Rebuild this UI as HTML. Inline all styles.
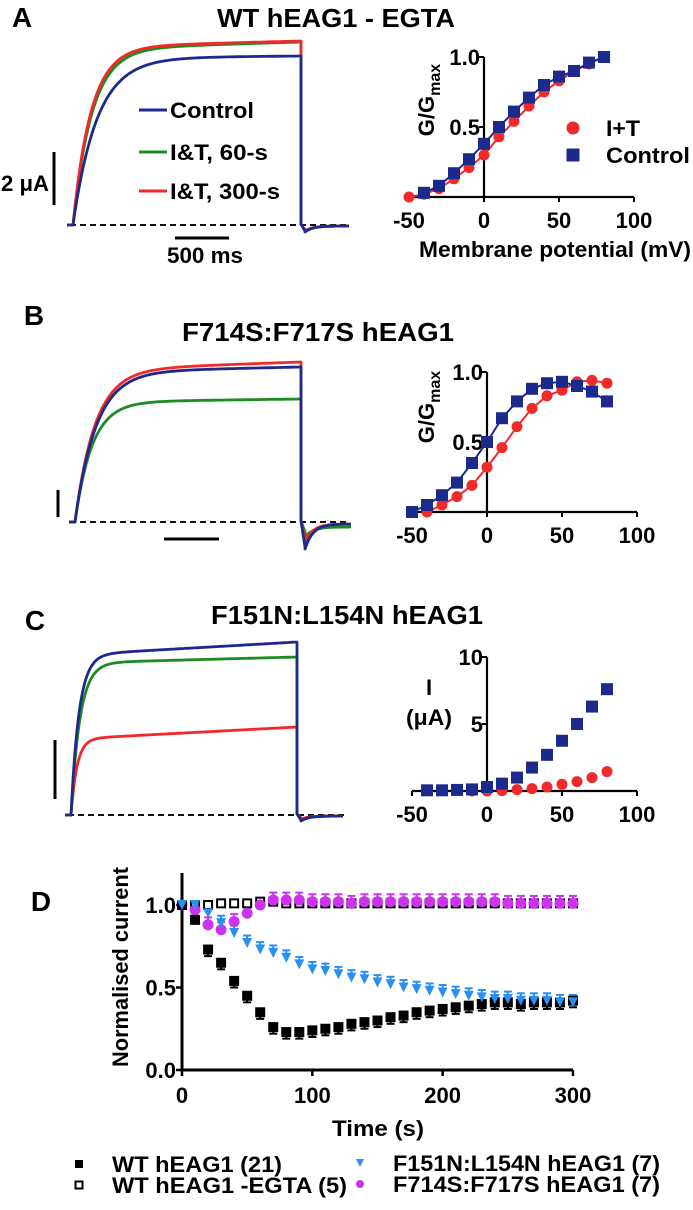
<!DOCTYPE html>
<html><head><meta charset="utf-8">
<style>
html,body{margin:0;padding:0;background:#fff;}
svg{display:block;font-family:"Liberation Sans",Arial,sans-serif;font-weight:bold;}
</style></head>
<body>
<svg id="fig" width="693" height="1210" viewBox="0 0 693 1210" xmlns="http://www.w3.org/2000/svg">
<g id="gA"></g>
<g id="gB"></g>
<g id="gC"></g>
<g id="gD"></g>
</svg>
<script>
// ---------- DATA ----------
const vA_ctrl = [-40,-30,-20,-10,0,10,20,30,40,50,60,70,80];
const gA_ctrl = [0.03,0.08,0.17,0.27,0.38,0.5,0.61,0.71,0.8,0.86,0.9,0.96,1.0];
const vA_it = [-50,-40,-30,-20,-10,0,10,20,30,40,50,60,70,80];
const gA_it = [0.0,0.02,0.06,0.13,0.21,0.3,0.43,0.54,0.65,0.75,0.83,0.9,0.95,1.0];

const vB_ctrl = [-50,-40,-30,-20,-10,0,10,20,30,40,50,60,70,80];
const gB_ctrl = [0.0,0.05,0.12,0.21,0.35,0.5,0.67,0.79,0.88,0.92,0.93,0.9,0.86,0.79];
const vB_it = [-40,-30,-20,-10,0,10,20,30,40,50,60,70,80];
const gB_it = [0.0,0.05,0.11,0.19,0.32,0.46,0.61,0.74,0.83,0.87,0.93,0.94,0.92];

const vC_ctrl = [-40,-30,-20,-10,0,10,20,30,40,50,60,70,80];
const iC_ctrl = [0.05,0.05,0.08,0.12,0.3,0.55,1.0,1.75,2.7,3.75,5.0,6.3,7.6];
const vC_it = [-10,0,10,20,30,40,50,60,70,80];
const iC_it = [0.0,0.0,0.03,0.1,0.18,0.3,0.5,0.7,1.0,1.45];

const tD = [0,10,20,30,40,50,60,70,80,90,100,110,120,130,140,150,160,170,180,190,200,210,220,230,240,250,260,270,280,290,300];
const dWT = [1.0,0.91,0.73,0.65,0.54,0.45,0.35,0.26,0.23,0.23,0.24,0.25,0.26,0.28,0.29,0.30,0.32,0.33,0.35,0.36,0.37,0.38,0.39,0.40,0.41,0.41,0.40,0.41,0.41,0.41,0.42];
const dEGTA = [1.0,1.0,1.0,1.01,1.01,1.01,1.02,1.02,1.01,1.01,1.01,1.01,1.01,1.01,1.01,1.01,1.01,1.01,1.01,1.01,1.01,1.01,1.01,1.01,1.01,1.01,1.01,1.01,1.01,1.01,1.01];
const dF151 = [1.0,1.0,0.95,0.89,0.83,0.77,0.73,0.71,0.68,0.64,0.61,0.60,0.58,0.56,0.55,0.53,0.52,0.50,0.49,0.48,0.47,0.46,0.45,0.44,0.43,0.43,0.42,0.42,0.42,0.41,0.41];
const dF714 = [1.0,0.97,0.88,0.85,0.90,0.95,1.0,1.03,1.03,1.03,1.02,1.02,1.02,1.01,1.02,1.02,1.02,1.02,1.02,1.02,1.02,1.02,1.02,1.02,1.02,1.01,1.01,1.01,1.01,1.01,1.01];
const tickX_IV = [-50,0,50,100];
const tickY_G = ["0.5","1.0"];
const tickX_D = [0,100,200,300];
const tickY_D = [0,0.5,1.0];

const NAVY="#1c2a8c", RED="#f02a2a", GREEN="#1c8c22", BLUE="#2b8ff0", MAG="#cc33ee";
const FS=22;
const NS="http://www.w3.org/2000/svg";
function mk(parent,tag,attrs,text){const e=document.createElementNS(NS,tag);for(const k in attrs)e.setAttribute(k,attrs[k]);if(text!==undefined)e.textContent=text;parent.appendChild(e);return e;}
function txt(p,x,y,s,size,anchor,name,len){const a={x:x,y:y,'font-size':size,'text-anchor':anchor||'middle'};
if(len){a.textLength=len;a.lengthAdjust='spacingAndGlyphs';}
const e=mk(p,'text',a,s);


return e;}
function line(p,x1,y1,x2,y2,stroke,w,name,dash){const e=mk(p,'line',{x1:x1,y1:y1,x2:x2,y2:y2,stroke:stroke,'stroke-width':w});if(dash)e.setAttribute('stroke-dasharray',dash);


return e;}

function trace(p,x0,x1,xend,base,amp,tau,slow,name,color,tail){
  let d="M"+(x0-6)+","+base+" L"+x0+","+base;
  for(let x=x0;x<=x1;x+=1){const t=x-x0;const y=base-amp*(1-Math.exp(-t/tau))-slow*(t/(x1-x0));d+=" L"+x+","+y.toFixed(1);}
  d+=" L"+x1+","+(base+tail[0])+" L"+(x1+4)+","+(base+tail[1]);
  for(let x=x1+4;x<=xend;x+=2){d+=" L"+x+","+(base+tail[1]*Math.exp(-(x-x1-4)/8)+tail[2]).toFixed(1);}
  const e=mk(p,'path',{d:d,fill:'none',stroke:color,'stroke-width':2.8,'stroke-linejoin':'round'});
  
  
}
function marker(p,shape,x,y,color,name,size){
  const s=size||10;let e;
  if(shape==='sq'){e=mk(p,'rect',{x:x-s/2,y:y-s/2,width:s,height:s,fill:color});}
  else if(shape==='osq'){e=mk(p,'rect',{x:x-s/2+1,y:y-s/2+1,width:s-2,height:s-2,fill:'#fff',stroke:color,'stroke-width':2});}
  else if(shape==='ci'){e=mk(p,'circle',{cx:x,cy:y,r:s/2,fill:color});}
  else {e=mk(p,'path',{d:`M${x-s/2},${y-s/2} L${x+s/2},${y-s/2} L${x},${y+s/2} Z`,fill:color});}
  
  
  return e;
}

// ---------- Panel A ----------
const A=document.getElementById('gA');
txt(A,22,27,"A",28,'middle','panel-a-label');
txt(A,336,27,"WT hEAG1 - EGTA",26,'middle','panel-a-title',238);
line(A,70,225,350,225,"#111",2,'baseline-a','6,4');
trace(A,73,301,350,225,176,19,7,'trace-a-60s',GREEN,[-1,5,1]);
trace(A,73,301,350,225,178,18,6,'trace-a-300s',RED,[-1,5,1]);
trace(A,73,301,350,225,167,24,2,'trace-a-control',NAVY,[-1,6,1]);
line(A,54,152,54,205,"#000",3,'scale-bar-current-a');
txt(A,25,191,"2 μA",FS,'middle','scale-label-current-a',48);
line(A,175,238,229,238,"#000",3,'scale-bar-time-a');
txt(A,205,263,"500 ms",FS,'middle','scale-label-time-a',76);
[["Control",110,NAVY,84],["I&T, 60-s",152,GREEN,98],["I&T, 300-s",191,RED,110]].forEach((r,i)=>{
  line(A,139,r[1],167,r[1],r[2],3,'legend-line-a-'+i);
  txt(A,170,r[1]+8,r[0],FS,'start','legend-text-a-'+i,r[3]);
});

function ivPlot(g,pre,x0,yZero,yScale,yTop,xs1,ys1,xs2,ys2,yTicks,yTickLabels,fitLine){
  const X=v=>x0+v*1.5, Y=v=>yZero-v*yScale;
  line(g,x0,yTop,x0,yZero,"#000",2.2,pre+'-y-axis');
  line(g,X(-50),yZero,X(100),yZero,"#000",2.2,pre+'-x-axis');
  tickX_IV.forEach(v=>{line(g,X(v),yZero,X(v),yZero+5,"#000",2,pre+'-x-tick');txt(g,X(v),yZero+31,String(v),FS,'middle',pre+'-x-tick-label');});
  yTicks.forEach((v,i)=>{line(g,x0-5,Y(v),x0,Y(v),"#000",2,pre+'-y-tick');txt(g,x0-4,Y(v)+8,yTickLabels[i],FS,'end',pre+'-y-tick-label');});
  const pts=(xs,ys)=>xs.map((v,i)=>X(v)+","+Y(ys[i])).join(" ");
  if(fitLine){
    const l1=mk(g,'polyline',{points:pts(xs2,ys2),fill:'none',stroke:RED,'stroke-width':2});
    
    
    const l2=mk(g,'polyline',{points:pts(xs1,ys1),fill:'none',stroke:NAVY,'stroke-width':2});
    
    
  }
  xs2.forEach((v,i)=>marker(g,'ci',X(v),Y(ys2[i]),RED,pre+'-point-it',11));
  xs1.forEach((v,i)=>marker(g,'sq',X(v),Y(ys1[i]),NAVY,pre+'-point-control',12));
}
ivPlot(A,'iv-a',484,197,140,57,vA_ctrl,gA_ctrl,vA_it,gA_it,[0.5,1.0],tickY_G,true);
txt(A,555,257,"Membrane potential (mV)",FS,'middle','x-axis-title-a',272);
function gLabel(g,x,y,name){const t=mk(g,'text',{x:0,y:0,'font-size':FS,'text-anchor':'middle',transform:`translate(${x},${y}) rotate(-90)`});


t.innerHTML='G/G<tspan font-size="16" dy="6">max</tspan>';}
gLabel(A,434,100,'y-axis-title-a');
marker(A,'ci',573,128,RED,'legend-marker-it',13);
txt(A,606,136,"I+T",FS,'start','legend-text-it',34);
marker(A,'sq',573,155,NAVY,'legend-marker-control',13);
txt(A,606,163,"Control",FS,'start','legend-text-control',84);

// ---------- Panel B ----------
const B=document.getElementById('gB');
txt(B,34,325,"B",28,'middle','panel-b-label');
txt(B,318,341,"F714S:F717S hEAG1",26,'middle','panel-b-title',272);
line(B,70,522,350,522,"#111",2,'baseline-b','6,4');
trace(B,75,301,351,522,120,17,3,'trace-b-60s',GREEN,[-1,10,5]);
trace(B,75,301,351,522,152,20,8,'trace-b-300s',RED,[-1,18,2]);
trace(B,75,301,351,522,150,21,5,'trace-b-control',NAVY,[-1,25,2]);
line(B,58,490,58,517,"#000",3,'scale-bar-current-b');
line(B,164,539,219,539,"#000",3,'scale-bar-time-b');
ivPlot(B,'iv-b',487,512,140,372,vB_ctrl,gB_ctrl,vB_it,gB_it,[0.5,1.0],tickY_G,true);
gLabel(B,434,407,'y-axis-title-b');

// ---------- Panel C ----------
const C=document.getElementById('gC');
txt(C,35,630,"C",28,'middle','panel-c-label');
txt(C,347,624,"F151N:L154N hEAG1",26,'middle','panel-c-title',272);
line(C,68,815,345,815,"#111",2,'baseline-c','6,4');
trace(C,71,297,344,815,152,9,6,'trace-c-60s',GREEN,[-1,4,1]);
trace(C,71,297,344,815,76,6,12,'trace-c-300s',RED,[-1,3,1]);
trace(C,71,297,344,815,160,8,13,'trace-c-control',NAVY,[-1,5,1]);
line(C,55,740,55,799,"#000",3,'scale-bar-current-c');
ivPlot(C,'iv-c',487,791,13.4,657,vC_ctrl,iC_ctrl,vC_it,iC_it,[5,10],["5","10"],false);
txt(C,429,695,"I",FS,'middle','y-axis-title-c-1');
txt(C,429,725,"(μA)",FS,'middle','y-axis-title-c-2',46);

// ---------- Panel D ----------
const D=document.getElementById('gD');
const DX=t=>182+t*(391/300), DY=v=>1070-v*165;
txt(D,41,911,"D",28,'middle','panel-d-label');
line(D,182,873,182,1070,"#000",3,'y-axis-d');
line(D,182,1070,DX(300),1070,"#000",3,'x-axis-d');
tickX_D.forEach(v=>{line(D,DX(v),1070,DX(v),1076,"#000",2.5,'x-tick-d');txt(D,DX(v),1103,String(v),FS,'middle','x-tick-label-d');});
tickY_D.forEach(v=>{line(D,176,DY(v),182,DY(v),"#000",2.5,'y-tick-d');txt(D,176,DY(v)+8,v.toFixed(1),FS,'end','y-tick-label-d');});
txt(D,378,1136,"Time (s)",FS,'middle','x-axis-title-d',92);
const yl=mk(D,'text',{x:0,y:0,'font-size':FS,'text-anchor':'middle',transform:'translate(128,967) rotate(-90)',textLength:200,lengthAdjust:'spacingAndGlyphs'},"Normalised current");


function errs(arr,err,dir,color,name){arr.forEach((v,i)=>{if(i<2)return;const x=DX(tD[i]),y=DY(v),y2=DY(v+dir*err);
line(D,x,y,x,y2,color,2,name);line(D,x-4,y2,x+4,y2,color,2,name);});}
errs(dF714,0.045,1,MAG,'errorbar-f714');
errs(dF151,0.045,1,BLUE,'errorbar-f151');
errs(dWT,0.04,-1,"#000",'errorbar-wt');
tD.forEach((t,i)=>marker(D,'osq',DX(t),DY(dEGTA[i]),"#000",'point-wt-egta',10));
tD.forEach((t,i)=>marker(D,'ci',DX(t),DY(dF714[i]),MAG,'point-f714',11));
tD.forEach((t,i)=>marker(D,'sq',DX(t),DY(dWT[i]),"#000",'point-wt',10));
tD.forEach((t,i)=>marker(D,'tri',DX(t),DY(dF151[i]),BLUE,'point-f151',10));
marker(D,'sq',79,1164,"#000",'legend-marker-wt',8);
txt(D,112,1172,"WT hEAG1 (21)",FS,'start','legend-text-wt',170);
marker(D,'osq',79,1185,"#000",'legend-marker-wt-egta',9);
txt(D,112,1193,"WT hEAG1 -EGTA (5)",FS,'start','legend-text-wt-egta',235);
marker(D,'tri',360,1163,BLUE,'legend-marker-f151',8);
txt(D,393,1171,"F151N:L154N hEAG1 (7)",FS,'start','legend-text-f151',267);
marker(D,'ci',360,1184,MAG,'legend-marker-f714',8);
txt(D,393,1192,"F714S:F717S hEAG1 (7)",FS,'start','legend-text-f714',267);
</script>
</body></html>
